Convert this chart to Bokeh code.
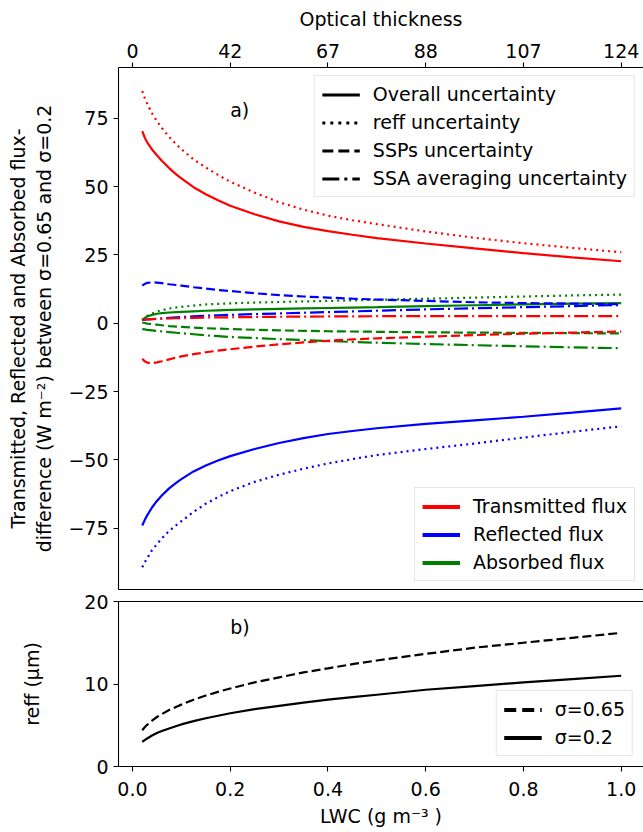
import numpy as np
from bokeh.plotting import figure
from bokeh.layouts import column
from bokeh.models import (Range1d, LinearAxis, FixedTicker, Legend, LegendItem, Label,
                          ColumnDataSource)
from bokeh.embed import file_html
from bokeh.resources import INLINE

# ---------------- data ----------------
lwc = [0.02, 0.025, 0.03, 0.04, 0.05, 0.06, 0.075, 0.09, 0.1, 0.125, 0.15, 0.175, 0.2,
       0.25, 0.3, 0.35, 0.4, 0.45, 0.5, 0.6, 0.7, 0.8, 0.9, 1.0]

trans_overall = [70.3, 68.0, 66.2, 63.6, 61.5, 59.5, 56.8, 54.4, 53.0, 49.8, 47.2, 45.0, 43.0,
                 39.9, 37.3, 35.3, 33.7, 32.4, 31.2, 29.2, 27.4, 25.7, 24.1, 22.7]
trans_reff = [85.0, 82.5, 80.4, 76.8, 74.0, 71.5, 68.2, 65.4, 63.7, 60.0, 57.0, 54.3, 51.8,
              47.8, 44.3, 41.6, 39.4, 37.7, 36.3, 33.6, 31.3, 29.3, 27.6, 26.0]
trans_ssp = [-13.0, -13.9, -14.4, -14.6, -14.3, -13.9, -13.2, -12.5, -12.1, -11.3, -10.6, -10.0, -9.5,
             -8.5, -7.7, -7.0, -6.4, -5.9, -5.5, -4.9, -4.3, -3.8, -3.4, -3.0]
trans_ssa = [1.2, 1.3, 1.4, 1.5, 1.6, 1.7, 1.8, 1.85, 1.9, 2.0, 2.1, 2.15, 2.2,
             2.3, 2.4, 2.45, 2.5, 2.55, 2.6, 2.6, 2.6, 2.6, 2.6, 2.6]

refl_overall = [-74.0, -72.0, -70.3, -67.4, -65.0, -63.0, -60.4, -58.3, -57.0, -54.2, -52.0, -50.2, -48.6,
                -46.0, -43.8, -42.0, -40.5, -39.4, -38.4, -36.8, -35.5, -34.2, -32.7, -31.1]
refl_reff = [-89.3, -87.5, -86.0, -83.0, -80.8, -78.7, -76.0, -73.8, -72.4, -69.0, -66.0, -63.6, -61.4,
             -58.0, -55.4, -53.2, -51.3, -49.7, -48.2, -46.0, -44.0, -41.8, -39.7, -37.7]
refl_ssp = [13.8, 14.4, 14.8, 15.0, 14.9, 14.7, 14.3, 14.0, 13.8, 13.2, 12.7, 12.2, 11.8,
            11.0, 10.3, 9.8, 9.4, 9.0, 8.7, 8.2, 7.7, 7.4, 7.2, 7.0]
refl_ssa = [1.2, 1.3, 1.4, 1.55, 1.7, 1.8, 2.0, 2.2, 2.3, 2.55, 2.8, 2.95, 3.1,
            3.35, 3.6, 3.85, 4.1, 4.35, 4.6, 5.1, 5.5, 5.9, 6.3, 6.7]

abs_overall = [1.2, 1.9, 2.5, 3.1, 3.5, 3.7, 3.95, 4.1, 4.2, 4.4, 4.6, 4.75, 4.9,
               5.1, 5.3, 5.45, 5.6, 5.75, 5.9, 6.3, 6.6, 6.9, 7.2, 7.4]
abs_reff = [1.2, 2.0, 2.7, 3.6, 4.3, 4.8, 5.4, 5.8, 6.0, 6.5, 6.9, 7.1, 7.3,
            7.6, 7.8, 8.0, 8.2, 8.4, 8.6, 9.0, 9.4, 9.8, 10.2, 10.5]
abs_ssp = [0.3, 0.1, -0.1, -0.3, -0.5, -0.7, -1.0, -1.2, -1.3, -1.55, -1.8, -1.95, -2.1,
           -2.35, -2.6, -2.75, -2.9, -3.0, -3.1, -3.3, -3.4, -3.5, -3.6, -3.7]
abs_ssa = [-2.1, -2.25, -2.4, -2.6, -2.8, -2.95, -3.2, -3.45, -3.6, -4.0, -4.4, -4.7, -5.0,
           -5.4, -5.8, -6.15, -6.5, -6.8, -7.1, -7.6, -8.0, -8.4, -8.8, -9.1]

reff_s065 = [4.4, 4.75, 5.05, 5.55, 6.0, 6.35, 6.85, 7.25, 7.5, 8.1, 8.6, 9.05, 9.45,
             10.2, 10.8, 11.4, 11.9, 12.4, 12.85, 13.65, 14.4, 15.0, 15.6, 16.2]
reff_s02 = [3.0, 3.2, 3.4, 3.75, 4.05, 4.3, 4.6, 4.9, 5.1, 5.5, 5.85, 6.15, 6.45,
            6.95, 7.35, 7.75, 8.1, 8.4, 8.7, 9.3, 9.75, 10.2, 10.6, 11.0]

lwc_ticks = [0.0, 0.2, 0.4, 0.6, 0.8, 1.0]
lwc_tick_labels = ["0.0", "0.2", "0.4", "0.6", "0.8", "1.0"]
tau_tick_labels = ["0", "42", "67", "88", "107", "124"]
flux_ticks = [-75, -50, -25, 0, 25, 50, 75]
flux_tick_labels = ["\u221275", "\u221250", "\u221225", "0", "25", "50", "75"]
reff_ticks = [0, 10, 20]
reff_tick_labels = ["0", "10", "20"]

uncert_labels = ["Overall uncertainty", "reff uncertainty", "SSPs uncertainty", "SSA averaging uncertainty"]
flux_labels = ["Transmitted flux", "Reflected flux", "Absorbed flux"]
sigma_labels = ["\u03c3=0.65", "\u03c3=0.2"]

# ---------------- styles ----------------
FONT = "DejaVu Sans"
FS = "19px"
RED, BLUE, GREEN = "#ff0000", "#0000ff", "#008000"
LW = 2.2
DASHES = {"solid": "solid", "dotted": "2 4", "dashed": "9 4", "dashdot": "14 4 2 4"}
LEG_DASHES = {"solid": "solid", "dotted": "3 5", "dashed": "11 5", "dashdot": "17 5 3 5"}
X_RANGE = Range1d(-0.0286, 1.0456)


def style_axis(ax, label_standoff=6, tick_standoff=5):
    ax.axis_label_text_font = FONT
    ax.axis_label_text_font_size = FS
    ax.axis_label_text_font_style = "normal"
    ax.axis_label_text_color = "black"
    ax.axis_label_standoff = label_standoff
    ax.major_label_text_font = FONT
    ax.major_label_text_font_size = FS
    ax.major_label_text_color = "black"
    ax.axis_line_color = "black"
    ax.axis_line_width = 1.1
    ax.major_tick_line_color = "black"
    ax.major_tick_line_width = 1.1
    ax.major_tick_out = 5
    ax.major_tick_in = 0
    ax.minor_tick_line_color = None
    ax.major_label_standoff = tick_standoff


def blank_axis():
    ax = LinearAxis(ticker=FixedTicker(ticks=[]))
    ax.axis_line_color = "black"
    ax.axis_line_width = 1.1
    ax.major_tick_out = 0
    ax.major_tick_in = 0
    ax.major_label_standoff = 0
    ax.minor_tick_line_color = None
    return ax


def style_legend(leg, margin=8):
    leg.label_text_font = FONT
    leg.label_text_font_size = FS
    leg.label_text_color = "black"
    leg.glyph_width = 38
    leg.glyph_height = 19
    leg.label_height = 19
    leg.spacing = 6
    leg.padding = 7
    leg.label_standoff = 13
    leg.margin = margin
    leg.border_line_color = "#cccccc"
    leg.border_line_width = 1
    leg.background_fill_color = "white"
    leg.background_fill_alpha = 0.8


def dummy_source():
    return ColumnDataSource(dict(x=np.array([np.nan]), y=np.array([np.nan])))


# ---------------- panel a ----------------
p1 = figure(width=643, height=591, x_range=X_RANGE, y_range=Range1d(-97.4, 93.6),
            output_backend="svg", toolbar_location=None,
            x_axis_location=None, y_axis_location=None,
            min_border_left=118, min_border_right=0, min_border_top=67, min_border_bottom=2)
p1.grid.visible = False
p1.outline_line_color = None
p1.background_fill_color = "white"
p1.border_fill_color = "white"

src = ColumnDataSource(dict(
    x=lwc,
    t0=trans_overall, t1=trans_reff, t2=trans_ssp, t3=trans_ssa,
    r0=refl_overall, r1=refl_reff, r2=refl_ssp, r3=refl_ssa,
    a0=abs_overall, a1=abs_reff, a2=abs_ssp, a3=abs_ssa,
))
styles = ["solid", "dotted", "dashed", "dashdot"]
for prefix, color in (("a", GREEN), ("r", BLUE), ("t", RED)):
    for i, st in enumerate(styles):
        p1.line("x", f"{prefix}{i}", source=src, line_color=color, line_width=LW,
                line_dash=DASHES[st])

ax_left = LinearAxis(ticker=FixedTicker(ticks=flux_ticks),
                     major_label_overrides=dict(zip(flux_ticks, flux_tick_labels)),
                     axis_label="Transmitted, Reflected and Absorbed flux-\n"
                                "difference (W m\u207b\u00b2) between \u03c3=0.65 and \u03c3=0.2")
style_axis(ax_left, label_standoff=10)
p1.add_layout(ax_left, "left")

ax_top = LinearAxis(ticker=FixedTicker(ticks=lwc_ticks),
                    major_label_overrides=dict(zip(lwc_ticks, tau_tick_labels)),
                    axis_label="Optical thickness")
style_axis(ax_top, label_standoff=11)
p1.add_layout(ax_top, "above")
p1.add_layout(blank_axis(), "below")

# legend of line styles (black samples)
leg1_items = []
for st, lab in zip(styles, uncert_labels):
    r = p1.line("x", "y", source=dummy_source(), line_color="black", line_width=2.8,
                line_dash=LEG_DASHES[st])
    leg1_items.append(LegendItem(label=lab, renderers=[r]))
leg1 = Legend(items=leg1_items, location="top_right")
style_legend(leg1, margin=8)
p1.add_layout(leg1)

leg2_items = []
for color, lab in zip((RED, BLUE, GREEN), flux_labels):
    r = p1.line("x", "y", source=dummy_source(), line_color=color, line_width=4)
    leg2_items.append(LegendItem(label=lab, renderers=[r]))
leg2 = Legend(items=leg2_items, location="bottom_right")
style_legend(leg2, margin=8)
p1.add_layout(leg2)

p1.add_layout(Label(x=0.2, y=78.0, text="a)", text_font=FONT, text_font_size=FS,
                    text_baseline="alphabetic", text_align="left", text_color="black"))

# ---------------- panel b ----------------
p2 = figure(width=643, height=241, x_range=X_RANGE, y_range=Range1d(0, 20),
            output_backend="svg", toolbar_location=None,
            x_axis_location=None, y_axis_location=None,
            min_border_left=118, min_border_right=0, min_border_top=10, min_border_bottom=66)
p2.grid.visible = False
p2.outline_line_color = None
p2.background_fill_color = "white"
p2.border_fill_color = "white"

src2 = ColumnDataSource(dict(x=lwc, s065=reff_s065, s02=reff_s02))
p2.line("x", "s065", source=src2, line_color="black", line_width=LW, line_dash="9 4")
p2.line("x", "s02", source=src2, line_color="black", line_width=LW)

ax_b_left = LinearAxis(ticker=FixedTicker(ticks=reff_ticks),
                       major_label_overrides=dict(zip(reff_ticks, reff_tick_labels)),
                       axis_label="reff (\u03bcm)")
style_axis(ax_b_left, label_standoff=38)
p2.add_layout(ax_b_left, "left")

ax_b_bottom = LinearAxis(ticker=FixedTicker(ticks=lwc_ticks),
                         major_label_overrides=dict(zip(lwc_ticks, lwc_tick_labels)),
                         axis_label="LWC (g m\u207b\u00b3 )")
style_axis(ax_b_bottom, label_standoff=6, tick_standoff=10)
p2.add_layout(ax_b_bottom, "below")
p2.add_layout(blank_axis(), "above")

lr1 = p2.line("x", "y", source=dummy_source(), line_color="black", line_width=4, line_dash="12 6")
lr2 = p2.line("x", "y", source=dummy_source(), line_color="black", line_width=4)
leg3 = Legend(items=[LegendItem(label=sigma_labels[0], renderers=[lr1]),
                     LegendItem(label=sigma_labels[1], renderers=[lr2])],
              location="bottom_right")
style_legend(leg3, margin=10)
p2.add_layout(leg3)

p2.add_layout(Label(x=0.2, y=16.85, text="b)", text_font=FONT, text_font_size=FS,
                    text_baseline="alphabetic", text_align="left", text_color="black"))

layout = column(p1, p2, spacing=0)
open("out.html", "w").write(file_html(layout, INLINE))
